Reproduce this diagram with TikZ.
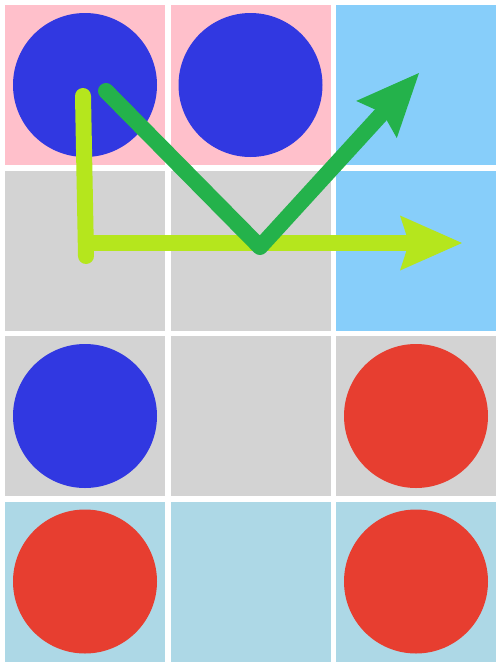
\documentclass[tikz,border=0pt]{standalone}
\definecolor{cpink}{RGB}{255,192,203}
\definecolor{csky}{RGB}{135,206,250}
\definecolor{cgray}{RGB}{211,211,211}
\definecolor{clblue}{RGB}{173,216,230}
\definecolor{cblue}{RGB}{49,56,225}
\definecolor{cred}{RGB}{231,62,48}
\definecolor{cgreen}{RGB}{36,178,75}
\definecolor{cyell}{RGB}{181,230,29}
\tikzset{
  cellbox/.style={fill=#1},
  disc/.style={fill=#1},
  yline/.style={draw=cyell, line width=16pt},
  gline/.style={draw=cgreen, line width=16pt, line cap=round, line join=round},
}
\begin{document}
\begin{tikzpicture}[x=1pt,y=-1pt]
\useasboundingbox (0,0) rectangle (502,667);
\fill[white] (0,0) rectangle (502,667);
% cells
\foreach \c/\r/\col in {0/0/cpink,1/0/cpink,2/0/csky,
                        0/1/cgray,1/1/cgray,2/1/csky,
                        0/2/cgray,1/2/cgray,2/2/cgray,
                        0/3/clblue,1/3/clblue,2/3/clblue}{
  \pgfmathsetmacro{\xx}{5+165.5*\c}
  \pgfmathsetmacro{\yy}{5+165.5*\r}
  \fill[\col] (\xx,\yy) rectangle ++(160,160);
}
% discs
\foreach \c/\r/\col in {0/0/cblue,1/0/cblue,0/2/cblue,2/2/cred,0/3/cred,2/3/cred}{
  \pgfmathsetmacro{\xx}{85+165.5*\c}
  \pgfmathsetmacro{\yy}{85+165.5*\r}
  \fill[\col] (\xx,\yy) circle[radius=72];
}
% yellow-green arrow
\coordinate (ya) at (83,96);
\coordinate (yb) at (86,256);
\coordinate (yc) at (86,243);
\coordinate (yd) at (412,243);
\draw[yline, line cap=round] (ya) -- (yb);
\draw[yline] (yc) -- (yd);
\fill[cyell] (462,243) -- (400,215.5) -- (409,243) -- (400,270.5) -- cycle;
% green arrow
\coordinate (ga) at (106,91);
\coordinate (gb) at (260,247);
\coordinate (gc) at (385.3,109.9);
\draw[gline] (ga) -- (gb) -- (gc);
\fill[cgreen] (419,73) -- (356.2,100.95) -- (382.6,112.9) -- (396.8,138.05) -- cycle;
\end{tikzpicture}
\end{document}
